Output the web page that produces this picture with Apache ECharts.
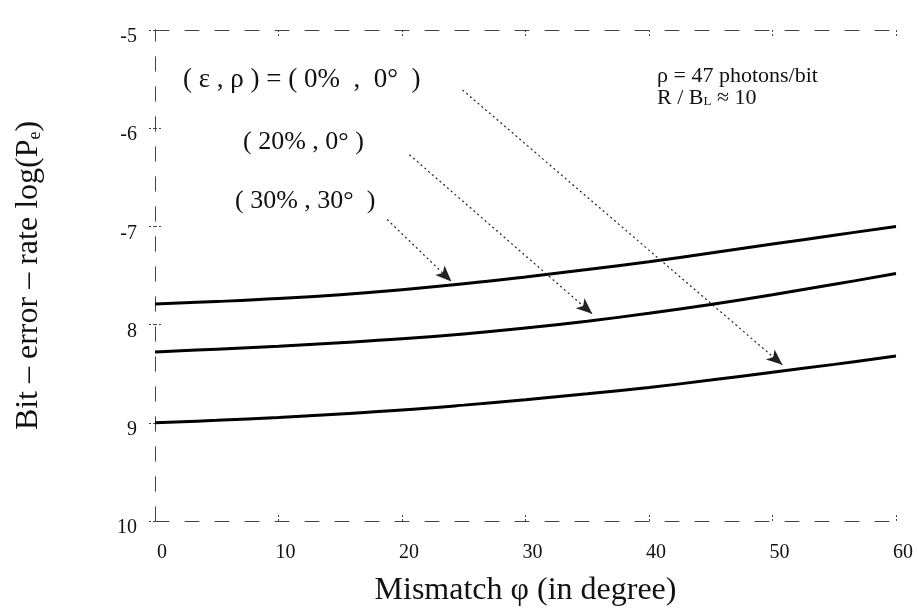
<!DOCTYPE html>
<html>
<head>
<meta charset="utf-8">
<script src="https://cdn.jsdelivr.net/npm/echarts@6/dist/echarts.min.js"></script>
<style>html,body{margin:0;padding:0;background:#fff;}#c{width:918px;height:614px;}</style>
</head>
<body>
<div id="c"></div>
<script>
// Mismatch angle φ (degrees)
const mismatchDeg = [0, 5, 10, 15, 20, 25, 30, 35, 40, 45, 50, 55, 60];
// log10 bit-error-rate for each (ε, ρ) case
const ber_eps0_rho0   = [-9.00, -8.975, -8.945, -8.91, -8.87, -8.82, -8.765, -8.705, -8.64, -8.565, -8.485, -8.405, -8.32];
const ber_eps20_rho0  = [-8.28, -8.25, -8.22, -8.185, -8.145, -8.095, -8.035, -7.965, -7.885, -7.795, -7.695, -7.59, -7.48];
const ber_eps30_rho30 = [-7.79, -7.765, -7.735, -7.695, -7.645, -7.585, -7.515, -7.44, -7.36, -7.27, -7.18, -7.09, -7.00];
// Tick labels as printed
const xTickValues = [0, 10, 20, 30, 40, 50, 60];
const yTickValues = [-10, -9, -8, -7, -6, -5];
const yTickLabels = ['10', '9', '8', '-7', '-6', '-5'];
// Annotation arrows (data coordinates): [from φ, from logP, to φ, to logP]
const arrow_eps0_rho0   = [24.9, -5.61, 50.8, -8.41];
const arrow_eps20_rho0  = [20.6, -6.27, 35.4, -7.89];
const arrow_eps30_rho30 = [18.8, -6.93, 24.0, -7.56];

const pairs = (ys) => mismatchDeg.map((x, i) => [x, ys[i]]);
const arrowLine = (a) => [{coord: [a[0], a[1]]}, {coord: [a[2], a[3]]}];

const serif = '"Liberation Serif", "DejaVu Serif", serif';
const frame = {show: true, lineStyle: {color: '#444', width: 1, type: [14, 16]}};
const tickStyle = {show: true, inside: true, length: 6, lineStyle: {color: '#444', type: [2, 2]}};
const curveStyle = {color: '#000', width: 3};

const chart = echarts.init(document.getElementById('c'), null, {renderer: 'canvas'});
chart.setOption({
  backgroundColor: '#fff',
  animation: false,
  grid: {left: 155, right: 22, top: 30, bottom: 93, containLabel: false},
  xAxis: [{
    type: 'value', min: 0, max: 60, interval: 10,
    axisLine: frame,
    axisTick: tickStyle,
    splitLine: {show: false},
    axisLabel: {fontFamily: serif, fontSize: 20, color: '#111', margin: 22, padding: [0, 0, 0, 14]},
    name: 'Mismatch φ (in degree)', nameLocation: 'middle', nameGap: 54,
    nameTextStyle: {fontFamily: serif, fontSize: 32, color: '#111'}
  }, {
    type: 'value', min: 0, max: 60, interval: 10, position: 'top',
    axisLine: frame, axisTick: tickStyle,
    axisLabel: {show: false}, splitLine: {show: false}
  }],
  yAxis: [{
    type: 'value', min: -10, max: -5, interval: 1,
    axisLine: frame,
    axisTick: tickStyle,
    splitLine: {show: false},
    axisLabel: {
      fontFamily: serif, fontSize: 20, color: '#111', margin: 18,
      verticalAlign: 'top', lineHeight: 14,
      formatter: (v) => { const i = yTickValues.indexOf(Math.round(v)); return i >= 0 ? yTickLabels[i] : ''; }
    },
    name: 'Bit – error – rate log(P{sub|e})', nameLocation: 'middle', nameGap: 110, nameRotate: 90,
    nameTextStyle: {
      fontFamily: serif, fontSize: 32, color: '#111',
      rich: {sub: {fontFamily: serif, fontSize: 18, color: '#111', padding: [12, 0, 0, 0]}}
    }
  }, {
    type: 'value', min: -10, max: -5, interval: 1, position: 'right',
    axisLine: frame, axisTick: tickStyle,
    axisLabel: {show: false}, splitLine: {show: false}
  }],
  series: [
    {
      name: '(0%, 0°)', type: 'line', data: pairs(ber_eps0_rho0), smooth: 0.4,
      showSymbol: false, lineStyle: curveStyle, itemStyle: {color: '#000'},
      markLine: {
        silent: true, symbol: ['none', 'arrow'], symbolSize: [10, 16],
        label: {show: false},
        lineStyle: {color: '#222', width: 1.2, type: [2, 3]},
        data: [arrowLine(arrow_eps0_rho0), arrowLine(arrow_eps20_rho0), arrowLine(arrow_eps30_rho30)]
      }
    },
    {
      name: '(20%, 0°)', type: 'line', data: pairs(ber_eps20_rho0), smooth: 0.4,
      showSymbol: false, lineStyle: curveStyle, itemStyle: {color: '#000'}
    },
    {
      name: '(30%, 30°)', type: 'line', data: pairs(ber_eps30_rho30), smooth: 0.4,
      showSymbol: false, lineStyle: curveStyle, itemStyle: {color: '#000'}
    }
  ],
  graphic: [
    {type: 'text', left: 183, top: 66, style: {text: '( ε , ρ ) = ( 0%  ,  0°  )', font: '27px ' + serif, fill: '#111'}},
    {type: 'text', left: 243, top: 129, style: {text: '( 20% , 0° )', font: '26px ' + serif, fill: '#111'}},
    {type: 'text', left: 235, top: 188, style: {text: '( 30% , 30°  )', font: '26px ' + serif, fill: '#111'}},
    {type: 'text', left: 657, top: 65, style: {text: 'ρ = 47 photons/bit', font: '22px ' + serif, fill: '#111'}},
    {type: 'text', left: 657, top: 87, style: {
      text: 'R / B{sub|L} ≈ 10', font: '22px ' + serif, fill: '#111',
      rich: {sub: {fontFamily: serif, fontSize: 13, fill: '#111', padding: [8, 0, 0, 0]}}
    }}
  ]
});
</script>
</body>
</html>
